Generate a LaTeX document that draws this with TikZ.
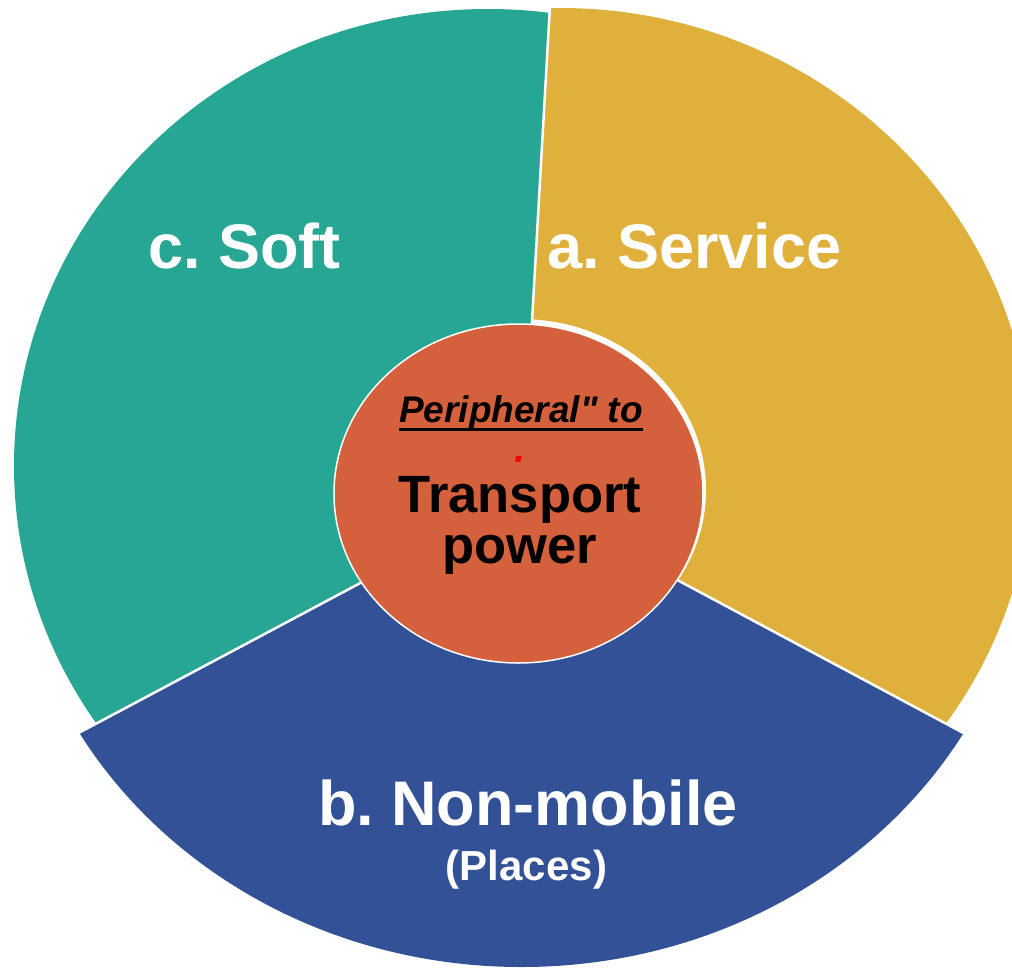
\documentclass[tikz,border=0pt]{standalone}
\usepackage{fontspec}
\setmainfont[Ligatures=TeXOff]{Liberation Sans}
\usetikzlibrary{shapes.geometric}
\definecolor{tealc}{HTML}{27A793}
\definecolor{yellowc}{HTML}{DFB03B}
\definecolor{bluec}{HTML}{325196}
\definecolor{orangec}{HTML}{D5603C}
\frenchspacing
\begin{document}
\begin{tikzpicture}[x=1pt,y=-1pt,
  lbl/.style={inner sep=0pt, anchor=base, text=white, font=\bfseries\fontsize{63}{63}\selectfont},
  ctext/.style={inner sep=0pt, anchor=base, text=black, font=\bfseries\fontsize{52.5}{52.5}\selectfont},
  gap/.style={white, line width=2.5pt}]
\useasboundingbox (0,0) rectangle (1012,967);
\clip (0,0) rectangle (1012,967);
\coordinate (A) at (522,497);
\coordinate (TY) at (556,-100);
\coordinate (TB) at (-100,828);
\coordinate (YB) at (1100,806);
% c. Soft sector
\begin{scope}
  \clip (A) -- (TY) -- (-100,-100) -- (TB) -- cycle;
  \fill[tealc] (488,466) ellipse[x radius=474pt, y radius=457pt];
\end{scope}
% a. Service sector
\begin{scope}
  \clip (A) -- (TY) -- (1100,-100) -- (YB) -- cycle;
  \fill[yellowc] (560,462) ellipse[x radius=472pt, y radius=454pt];
  \fill[white] (520,490) ellipse[x radius=186pt, y radius=171pt];
\end{scope}
% b. Non-mobile sector
\begin{scope}
  \clip (A) -- (TB) -- (-100,1100) -- (1100,1100) -- (YB) -- cycle;
  \fill[bluec] (521.5,500) ellipse[x radius=510pt, y radius=467pt];
\end{scope}
\draw[gap] (TY) -- (A) -- (TB) (A) -- (YB);
% centre
\node[ellipse, draw=white, line width=1.5pt, fill=orangec, inner sep=0pt,
      minimum width=369pt, minimum height=339pt] (core) at (518.5,493.5) {};
% labels
\node[lbl] (soft) at (244.5,268) {c. Soft};
\node[lbl] (serv) at (694.5,268) {a. Service};
\node[lbl] (nonm) at (528,825) {b. Non-mobile};
\node[lbl, font=\bfseries\fontsize{42}{42}\selectfont] (plc) at (526.5,880) {(Places)};
\node[inner sep=0pt, anchor=base, font=\bfseries\itshape\fontsize{37}{37}\selectfont] (per) at (521,422) {Peripheral" to};
\draw[line width=3pt] ([yshift=-7.5pt]per.base west) -- ([yshift=-7.5pt]per.base east);
\node[inner sep=0pt, anchor=base, text=red, font=\bfseries\itshape\fontsize{40}{40}\selectfont] (dot) at (520,462) {.};
\node[ctext] (tr) at (520,512) {Transport};
\node[ctext] (pw) at (520,563) {power};
\end{tikzpicture}
\end{document}
